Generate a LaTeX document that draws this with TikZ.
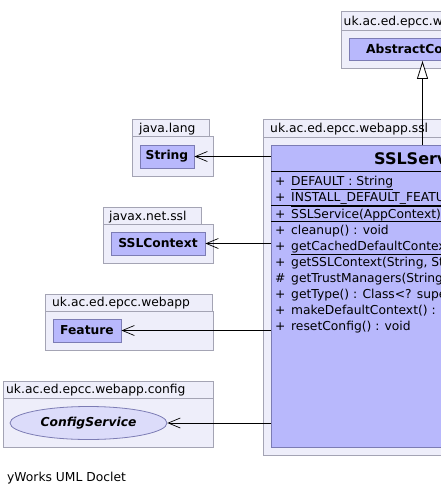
\documentclass[tikz,border=0pt]{standalone}
\usepackage{fontspec}
\setmainfont{DejaVu Sans}
\usetikzlibrary{arrows.meta,shapes.geometric}
\definecolor{pkgfill}{RGB}{238,238,250}
\definecolor{pkgline}{RGB}{164,164,180}
\definecolor{clsfill}{RGB}{184,184,252}
\definecolor{clsline}{RGB}{124,124,180}
\definecolor{ellfill}{RGB}{220,220,250}
\tikzset{
  pkg/.style={draw=pkgline, fill=pkgfill, line width=0.9pt},
  cls/.style={draw=clsline, fill=clsfill, line width=0.9pt, inner sep=0pt, font=\fontsize{12.3}{14}\selectfont\bfseries},
  ell/.style={ellipse, draw=clsline, fill=ellfill, line width=0.8pt, inner sep=0pt, font=\fontsize{12.3}{14}\selectfont\bfseries\itshape},
  lbl/.style={anchor=base west, inner sep=0pt, font=\fontsize{12.3}{14}\selectfont},
  sep/.style={draw=black, line width=0.8pt},
  dep/.style={draw=black, line width=0.8pt, -{Straight Barb[length=12pt,width=10pt,line width=0.7pt]}},
  inh/.style={draw=black, line width=0.8pt, -{Triangle[open,length=18pt,width=11pt,line width=0.8pt,fill=white]}}
}
\begin{document}
\begin{tikzpicture}[x=1pt,y=-1pt]
\useasboundingbox (0,0) rectangle (441,493);
\clip (0,0) rectangle (441,493);
\fill[white] (0,0) rectangle (441,493);

% top package
\draw[pkg] (341,11) rectangle (470,30);
\draw[pkg] (341,30) rectangle (470,68.5);
\node[lbl] (ltop) at (343.5,25) {uk.ac.ed.epcc.webapp};
\node[cls, minimum width=160pt, minimum height=22.5pt, anchor=north west] (abs) at (349,37.5) {};
\node[anchor=base west, inner sep=0pt, font=\fontsize{12.3}{14}\selectfont\bfseries] (absname) at (366,53.5) {AbstractConfigService};

% main package
\draw[pkg] (263,119) rectangle (470,137);
\draw[pkg] (263,137) rectangle (470,455);
\node[lbl] (lssl) at (270,132.5) {uk.ac.ed.epcc.webapp.ssl};
\node[cls, minimum width=300pt, minimum height=302pt, anchor=north west] (ssl) at (271,145) {};
\node[anchor=base west, inner sep=0pt, font=\fontsize{16}{18}\selectfont\bfseries] (title) at (374,164) {SSLService};
\draw[sep] (271,171) -- (571,171);
\draw[sep] (271,205.5) -- (571,205.5);
\draw[sep] (271,221.5) -- (571,221.5);
\foreach \y/\v/\t [count=\i] in {
  185/+/\underline{DEFAULT : String},
  201.5/+/\underline{INSTALL\_DEFAULT\_FEATURE : Feature},
  218/+/SSLService(AppContext),
  234/+/cleanup() : void,
  250/+/\underline{getCachedDefaultContext() : SSLContext},
  266/+/{getSSLContext(String, String) : SSLContext},
  282/\#/getTrustManagers(String),
  298/+/getType() : Class<? super SSLService>,
  314/+/makeDefaultContext() : SSLContext,
  330/+/resetConfig() : void}
{
  \node[lbl] (v\i) at (275,\y) {\v};
  \node[lbl] (m\i) at (291,\y) {\t};
}

% java.lang
\draw[pkg] (132,119) rectangle (209,136);
\draw[pkg] (132,136) rectangle (213,176);
\node[lbl] (ljl) at (139,132) {java.lang};
\node[cls, minimum width=54pt, minimum height=23pt] (string) at (167,156.5) {String};

% javax.net.ssl
\draw[pkg] (103,207) rectangle (201,224);
\draw[pkg] (103,224) rectangle (213,263);
\node[lbl] (ljx) at (109,220) {javax.net.ssl};
\node[cls, minimum width=94pt, minimum height=23pt] (sslctx) at (158,243.5) {SSLContext};

% uk.ac.ed.epcc.webapp
\draw[pkg] (45,294) rectangle (212,311.5);
\draw[pkg] (45,311.5) rectangle (213,350);
\node[lbl] (lwa) at (52,306) {uk.ac.ed.epcc.webapp};
\node[cls, minimum width=68pt, minimum height=23pt] (feature) at (87,330.5) {Feature};

% uk.ac.ed.epcc.webapp.config
\draw[pkg] (3,381) rectangle (213,398);
\draw[pkg] (3,398) rectangle (213,447);
\node[lbl] (lcf) at (6,393.5) {uk.ac.ed.epcc.webapp.config};
\node[ell, minimum width=157pt, minimum height=33pt] (cfg) at (88.5,423) {ConfigService};

% connectors
\draw[dep] (ssl.west |- string.east) -- (string.east);
\draw[dep] (ssl.west |- sslctx.east) -- (sslctx.east);
\draw[dep] (ssl.west |- feature.east) -- (feature.east);
\draw[dep] (ssl.west |- cfg.east) -- (cfg.east);
\coordinate (ix) at (422.5,100);
\draw[inh] (ix |- ssl.north) -- (ix |- abs.south);

\node[lbl] (doclet) at (7,481.5) {yWorks UML Doclet};
\end{tikzpicture}
\end{document}
